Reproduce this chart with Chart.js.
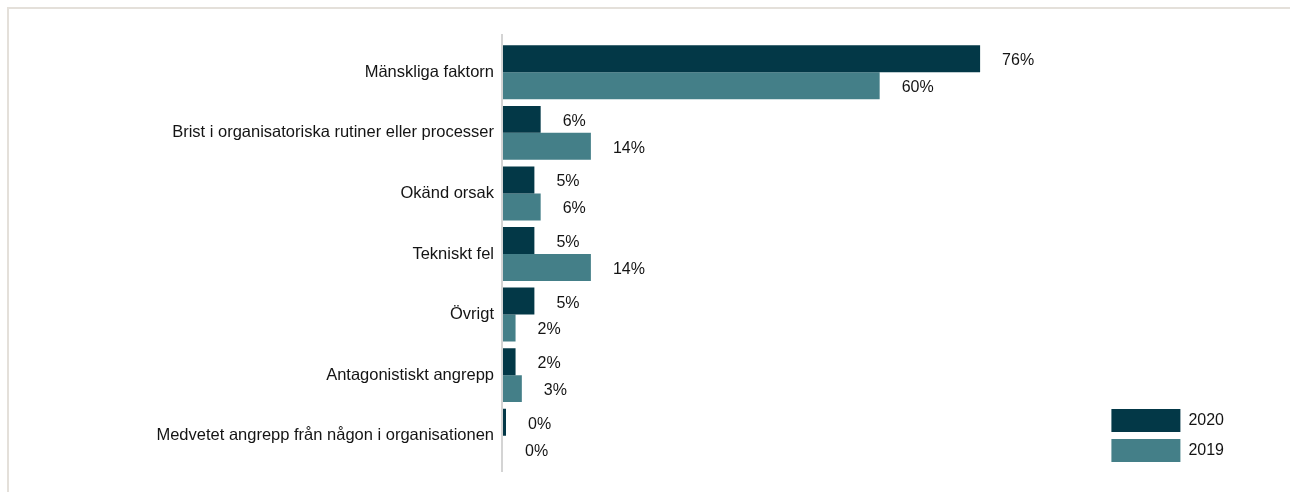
<!DOCTYPE html>
<html lang="sv">
<head>
    <meta charset="UTF-8">
    <title>Orsaker till incidenter</title>
    <script src="https://cdn.jsdelivr.net/npm/chart.js@4.4.1/dist/chart.umd.min.js"></script>
    <style>
        html, body { margin: 0; padding: 0; background: #fff; }
        #frame {
            position: absolute; left: 7px; top: 7px; right: 0; bottom: 0;
            border-top: 2px solid #e4e0da; border-left: 2px solid #e4e0da;
        }
        #wrap { position: absolute; left: 0; top: 0; width: 1290px; height: 492px; }
    </style>
</head>
<body>
<div id="frame"></div>
<div id="wrap"><canvas id="causeChart"></canvas></div>

<script>
// Andel incidenter per orsak, i procent
const categories = [
    'Mänskliga faktorn',
    'Brist i organisatoriska rutiner eller processer',
    'Okänd orsak',
    'Tekniskt fel',
    'Övrigt',
    'Antagonistiskt angrepp',
    'Medvetet angrepp från någon i organisationen'
];
const values2020 = [76, 6, 5, 5, 5, 2, 0];
const values2019 = [60, 14, 6, 14, 2, 3, 0];

const DARK = '#033847';
const TEAL = '#447f88';
const FONT = '"Liberation Sans", Arial, sans-serif';

// Lodrät axellinje, lite längre än stapelytan
const axisLine = {
    id: 'axisLine',
    beforeDatasetsDraw(chart) {
        const { ctx, chartArea } = chart;
        ctx.save();
        ctx.strokeStyle = '#d4d4d4';
        ctx.lineWidth = 2;
        ctx.beginPath();
        ctx.moveTo(chartArea.left - 1, chartArea.top - 8);
        ctx.lineTo(chartArea.left - 1, chartArea.bottom + 6);
        ctx.stroke();
        ctx.restore();
    }
};

// Procentetiketter till höger om varje stapel
const valueLabels = {
    id: 'valueLabels',
    afterDatasetsDraw(chart) {
        const { ctx } = chart;
        ctx.save();
        ctx.font = '16px ' + FONT;
        ctx.fillStyle = '#141414';
        ctx.textAlign = 'left';
        ctx.textBaseline = 'middle';
        chart.data.datasets.forEach((ds, i) => {
            chart.getDatasetMeta(i).data.forEach((bar, j) => {
                ctx.fillText(ds.data[j] + '%', bar.x + 22, bar.y + 2);
            });
        });
        ctx.restore();
    }
};

// Förklaringen flyttas ner några pixlar i sitt hörn
const legendNudge = {
    id: 'legendNudge',
    afterLayout(chart) {
        chart.legend.top += 3;
        chart.legend.bottom += 3;
    }
};

const ctx = document.getElementById('causeChart').getContext('2d');
const chart = new Chart(ctx, {
    type: 'bar',
    data: {
        labels: categories,
        datasets: [
            { label: '2020', data: values2020, backgroundColor: DARK, minBarLength: 3 },
            { label: '2019', data: values2019, backgroundColor: TEAL }
        ]
    },
    options: {
        indexAxis: 'y',
        responsive: true,
        maintainAspectRatio: false,
        animation: false,
        barPercentage: 1.0,
        categoryPercentage: 0.89,
        layout: { padding: { top: 42, bottom: 26, left: 0, right: 56 } },
        scales: {
            x: { display: false, min: 0, max: 95.8 },
            y: {
                grid: { display: false, drawTicks: false },
                border: { display: false },
                ticks: {
                    color: '#141414',
                    padding: 9,
                    font: { family: FONT, size: 16.5 }
                },
                afterFit(scale) { scale.width = 503; }
            }
        },
        plugins: {
            legend: {
                position: 'right',
                align: 'end',
                labels: {
                    boxWidth: 69,
                    boxHeight: 23,
                    padding: 7,
                    color: '#141414',
                    font: { family: FONT, size: 16 }
                }
            },
            tooltip: { enabled: false }
        }
    },
    plugins: [axisLine, valueLabels, legendNudge]
});
</script>
</body>
</html>
